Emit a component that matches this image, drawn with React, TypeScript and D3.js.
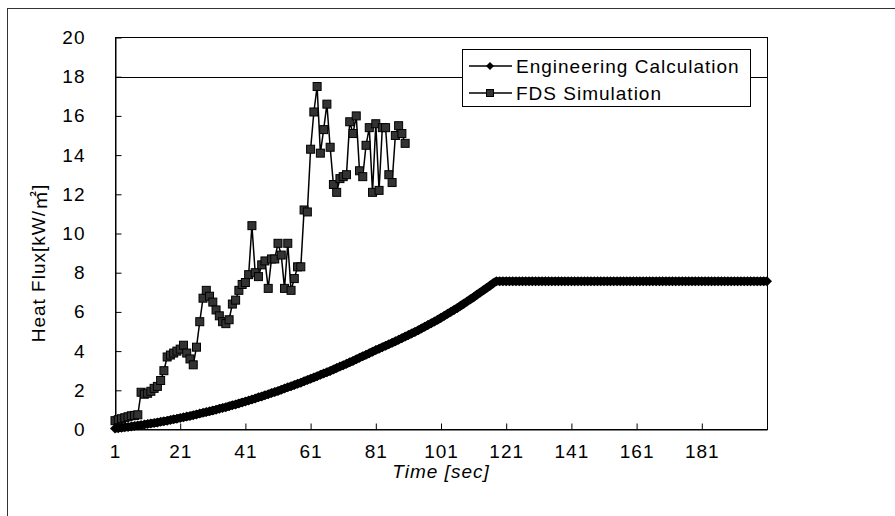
import React, { useEffect, useRef } from "react";
import * as d3 from "d3";

// time categories 1..201 (one point per second)
const times = d3.range(1, 202);
const xTickLabels = [1, 21, 41, 61, 81, 101, 121, 141, 161, 181];
const yTicks = [0, 2, 4, 6, 8, 10, 12, 14, 16, 18, 20];

const engineering = [
  0.05, 0.07, 0.09, 0.11, 0.13, 0.15, 0.18, 0.2, 0.23, 0.25,
  0.28, 0.31, 0.33, 0.36, 0.39, 0.42, 0.45, 0.49, 0.52, 0.55,
  0.59, 0.62, 0.66, 0.69, 0.73, 0.77, 0.81, 0.85, 0.89, 0.93,
  0.97, 1.01, 1.06, 1.1, 1.14, 1.19, 1.24, 1.28, 1.33, 1.38,
  1.43, 1.48, 1.53, 1.58, 1.64, 1.69, 1.75, 1.8, 1.86, 1.91,
  1.97, 2.03, 2.09, 2.15, 2.21, 2.27, 2.33, 2.39, 2.46, 2.52,
  2.59, 2.65, 2.72, 2.79, 2.86, 2.92, 2.99, 3.06, 3.14, 3.21,
  3.28, 3.35, 3.43, 3.5, 3.58, 3.66, 3.74, 3.81, 3.89, 3.97,
  4.05, 4.12, 4.2, 4.27, 4.35, 4.42, 4.5, 4.58, 4.66, 4.74,
  4.82, 4.9, 4.98, 5.06, 5.15, 5.24, 5.33, 5.42, 5.51, 5.6,
  5.7, 5.8, 5.9, 6.0, 6.1, 6.2, 6.31, 6.42, 6.53, 6.64,
  6.75, 6.87, 6.99, 7.1, 7.22, 7.34, 7.46, 7.57,
  7.57, 7.57, 7.57, 7.57, 7.57, 7.57, 7.57, 7.57, 7.57, 7.57,
  7.57, 7.57, 7.57, 7.57, 7.57, 7.57, 7.57, 7.57, 7.57, 7.57,
  7.57, 7.57, 7.57, 7.57, 7.57, 7.57, 7.57, 7.57, 7.57, 7.57,
  7.57, 7.57, 7.57, 7.57, 7.57, 7.57, 7.57, 7.57, 7.57, 7.57,
  7.57, 7.57, 7.57, 7.57, 7.57, 7.57, 7.57, 7.57, 7.57, 7.57,
  7.57, 7.57, 7.57, 7.57, 7.57, 7.57, 7.57, 7.57, 7.57, 7.57,
  7.57, 7.57, 7.57, 7.57, 7.57, 7.57, 7.57, 7.57, 7.57, 7.57,
  7.57, 7.57, 7.57, 7.57, 7.57, 7.57, 7.57, 7.57, 7.57, 7.57,
  7.57, 7.57, 7.57,
];

const fds = [
  0.45, 0.5, 0.55, 0.6, 0.65, 0.7, 0.72, 0.75,
  1.9, 1.8, 1.85, 1.95, 2.1, 2.2, 2.5, 3.0,
  3.7, 3.8, 3.9, 4.0, 4.1, 4.3, 3.9, 3.6, 3.3, 4.2,
  5.5, 6.7, 7.1, 6.8, 6.5, 6.1, 5.8, 5.5, 5.4, 5.6,
  6.4, 6.6, 7.1, 7.4, 7.5, 7.9, 10.4, 8.0, 7.8, 8.4,
  8.6, 7.2, 8.7, 8.7, 9.5, 8.9, 7.2, 9.5, 7.1, 7.7, 8.3,
  8.3, 11.2, 11.1, 14.3, 16.2, 17.5, 14.1, 15.3, 16.6, 14.4,
  12.5, 12.1, 12.8, 12.9, 13.0, 15.7, 15.1, 16.0, 13.2, 12.9,
  14.5, 15.4, 12.1, 15.6, 12.2, 15.4, 15.4, 13.0, 12.6, 15.0,
  15.5, 15.1, 14.6,
];

const FONT = "'Liberation Sans', Arial, sans-serif";

const App = () => {
  const svgRef = useRef<SVGSVGElement>(null);

  useEffect(() => {
    const svg = d3.select(svgRef.current);
    svg.selectAll("*").remove();

    const left = 115.5, right = 767.5, top = 37.5, bottom = 429.5;

    const x = d3.scalePoint<number>().domain(times).range([115, 767]);
    const y = d3.scaleLinear().domain([0, 20]).range([bottom, top]);

    // outer chart border (right/bottom fall outside the picture)
    svg.append("rect")
      .attr("x", 7.5).attr("y", 8.5)
      .attr("width", 1000).attr("height", 1000)
      .attr("fill", "none").attr("stroke", "#333");

    // plot frame + single gridline at 18
    svg.append("rect")
      .attr("x", left).attr("y", top)
      .attr("width", right - left).attr("height", bottom - top)
      .attr("fill", "none").attr("stroke", "#000");

    svg.append("line")
      .attr("x1", left).attr("x2", right)
      .attr("y1", Math.round(y(18)) + 0.5).attr("y2", Math.round(y(18)) + 0.5)
      .attr("stroke", "#000");

    // axes
    const yAxis = svg.append("g")
      .attr("transform", `translate(${left},0)`)
      .call(d3.axisLeft(y).tickValues(yTicks).tickSizeInner(-6).tickSizeOuter(0).tickPadding(30));
    yAxis.selectAll("text")
      .style("font-family", FONT).style("font-size", "19px")
      .style("letter-spacing", "1px").attr("fill", "#000");

    const xAxis = svg.append("g")
      .attr("transform", `translate(0,${bottom})`)
      .call(d3.axisBottom(x).tickValues(xTickLabels).tickSizeInner(-6).tickSizeOuter(0).tickPadding(15));
    xAxis.selectAll("text")
      .style("font-family", FONT).style("font-size", "19px")
      .style("letter-spacing", "1px").attr("fill", "#000");
    svg.selectAll(".domain, .tick line").attr("stroke", "#000");

    // axis titles
    const yt = svg.append("text")
      .attr("transform", "translate(38,263) rotate(-90)")
      .attr("text-anchor", "middle")
      .attr("dominant-baseline", "central")
      .style("font-family", FONT).style("font-size", "19px")
      .style("letter-spacing", "1px");
    yt.append("tspan").text("Heat Flux[kW/");
    yt.append("tspan").style("font-family", "'Noto Sans CJK KR', sans-serif").text("㎡");
    yt.append("tspan").text("]");

    svg.append("text")
      .attr("x", 441).attr("y", 478)
      .attr("text-anchor", "middle")
      .style("font-family", FONT).style("font-size", "19px")
      .style("font-style", "italic").style("letter-spacing", "1px")
      .text("Time [sec]");

    const line = d3.line<number>()
      .x((d, i) => x(times[i]) as number)
      .y((d) => y(d));

    const diamond = "M0,-5L5,0L0,5L-5,0Z";

    // Engineering Calculation
    svg.append("path")
      .datum(engineering)
      .attr("fill", "none").attr("stroke", "#000").attr("stroke-width", 8)
      .attr("stroke-linejoin", "round")
      .attr("d", line);
    svg.append("g").selectAll("path")
      .data(engineering)
      .enter().append("path")
      .attr("transform", (d, i) => `translate(${x(times[i])},${y(d)})`)
      .attr("d", diamond)
      .attr("fill", "#000");

    // FDS Simulation
    svg.append("path")
      .datum(fds)
      .attr("fill", "none").attr("stroke", "#000").attr("stroke-width", 1.5)
      .attr("d", line);
    svg.append("g").selectAll("rect")
      .data(fds)
      .enter().append("rect")
      .attr("x", (d, i) => (x(times[i]) as number) - 4)
      .attr("y", (d) => y(d) - 4)
      .attr("width", 8).attr("height", 8)
      .attr("fill", "#333").attr("stroke", "#000").attr("stroke-width", 1);

    // legend
    const lg = svg.append("g");
    lg.append("rect")
      .attr("x", 462.5).attr("y", 49.5)
      .attr("width", 288).attr("height", 57)
      .attr("fill", "#fff").attr("stroke", "#000");

    const rows = [
      { label: "Engineering Calculation", cy: 66, kind: "diamond" },
      { label: "FDS Simulation", cy: 93, kind: "square" },
    ];
    rows.forEach((r) => {
      lg.append("line")
        .attr("x1", 469).attr("x2", 512)
        .attr("y1", r.cy).attr("y2", r.cy)
        .attr("stroke", "#000").attr("stroke-width", 1.5);
      if (r.kind === "diamond") {
        lg.append("path")
          .attr("transform", `translate(490,${r.cy})`)
          .attr("d", "M0,-4L4,0L0,4L-4,0Z").attr("fill", "#000");
      } else {
        lg.append("rect")
          .attr("x", 486.5).attr("y", r.cy - 3.5)
          .attr("width", 7).attr("height", 7)
          .attr("fill", "#333").attr("stroke", "#000");
      }
      lg.append("text")
        .attr("x", 516).attr("y", r.cy)
        .attr("dy", "0.35em")
        .style("font-family", FONT).style("font-size", "19px")
        .style("letter-spacing", "1px")
        .text(r.label);
    });
  }, []);

  return (
    <svg
      ref={svgRef}
      width={895}
      height={516}
      style={{ position: "absolute", left: 0, top: 0, background: "#fff" }}
    />
  );
};

export default App;
